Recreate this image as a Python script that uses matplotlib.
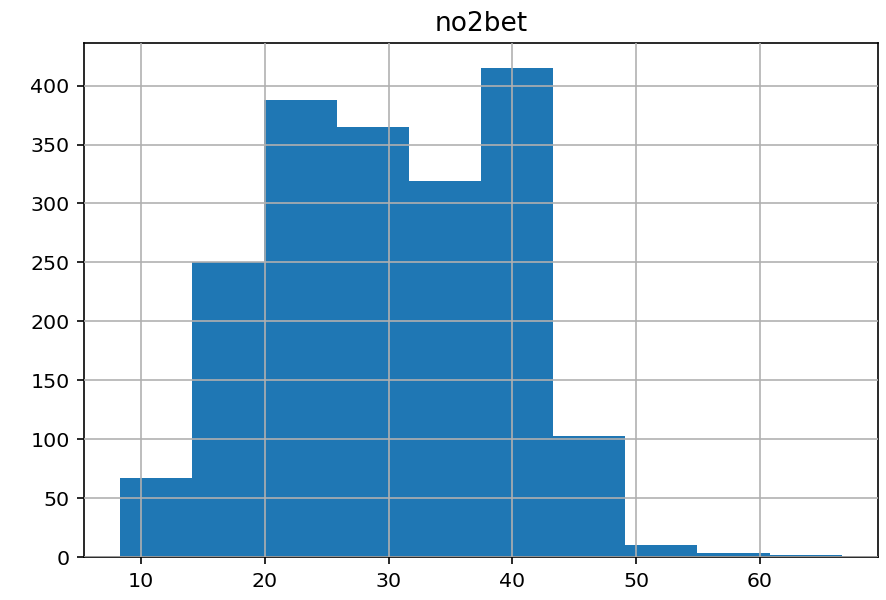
import matplotlib
matplotlib.use("Agg")
import matplotlib.pyplot as plt

# histogram of no2bet, 10 bins
bin_edges = [8.3, 14.13, 19.96, 25.79, 31.62, 37.45, 43.28, 49.11, 54.94, 60.77, 66.6]
counts = [67, 250, 388, 365, 319, 415, 103, 10, 4, 2]
title = "no2bet"

S = 1.476  # picture looks like a 72 dpi pandas plot blown up ~2x

fig = plt.figure(figsize=(8.86, 6.0), dpi=100)
ax = fig.add_axes([0.0948, 0.0712, 0.896, 0.857])
ax.hist(bin_edges[:-1], bins=bin_edges, weights=counts, color="#1f77b4")
ax.grid(True, color="#b0b0b0", linewidth=0.8 * S)
ax.set_axisbelow(False)
ax.set_title(title, fontsize=19, pad=6 * S)
ax.set_xticks([10, 20, 30, 40, 50, 60])
ax.set_yticks(range(0, 401, 50))
ax.tick_params(labelsize=10 * S, length=3.5 * S, width=0.8 * S, pad=3.5 * S)
for sp in ax.spines.values():
    sp.set_linewidth(0.8 * S)
ax.set_xlim(5.385, 69.515)
ax.set_ylim(0, 436)
fig.savefig("out.png", dpi=100)
